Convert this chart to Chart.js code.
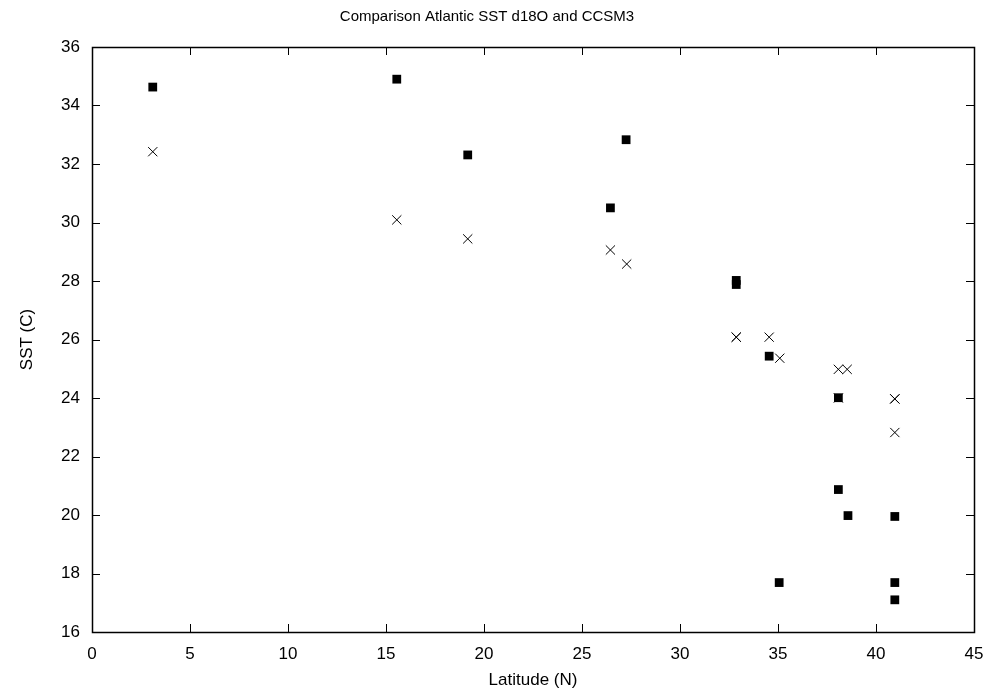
<!DOCTYPE html>
<html>
<head>
<meta charset="utf-8">
<script src="https://cdn.jsdelivr.net/npm/chart.js@4/dist/chart.umd.min.js"></script>
<style>
  html, body { margin: 0; padding: 0; background: #fff; }
  #wrap { width: 991px; height: 692px; }
</style>
</head>
<body>
<div id="wrap"><canvas id="c" width="991" height="692"></canvas></div>
<script>
// Data
const titleText = 'Comparison Atlantic SST d18O and CCSM3';
const xTitle = 'Latitude (N)';
const yTitle = 'SST (C)';

const d18oLat = [3.1, 15.55, 19.17, 27.25, 26.45, 32.87, 32.87, 34.55, 38.08, 38.08, 38.57, 40.96, 35.06, 40.96, 40.96];
const d18oSst = [34.63, 34.9, 32.31, 32.83, 30.5, 28.02, 27.88, 25.43, 24.01, 20.87, 19.98, 19.95, 17.69, 17.69, 17.1];

const ccsmLat = [3.1, 15.55, 19.17, 26.45, 27.28, 32.87, 32.87, 34.55, 35.09, 38.08, 38.53, 38.08, 40.96, 40.96, 40.96];
const ccsmSst = [32.42, 30.09, 29.44, 29.06, 28.58, 26.08, 26.08, 26.08, 25.36, 24.98, 24.98, 24.0, 23.97, 23.97, 22.82];

const xTicks = [0, 5, 10, 15, 20, 25, 30, 35, 40, 45];
const yTicks = [16, 18, 20, 22, 24, 26, 28, 30, 32, 34, 36];

const toPoints = (xs, ys) => xs.map((x, i) => ({ x: x, y: ys[i] }));

const FONT = "'Liberation Sans', Arial, Helvetica, sans-serif";

// Frame and inward tick marks on all four sides
const framePlugin = {
  id: 'frame',
  afterDraw(chart) {
    const { ctx, chartArea: a, scales } = chart;
    const tl = 8;
    ctx.save();
    ctx.strokeStyle = '#000';
    ctx.lineWidth = 1;
    ctx.beginPath();
    xTicks.forEach(v => {
      const px = Math.round(scales.x.getPixelForValue(v)) + 0.5;
      ctx.moveTo(px, a.bottom); ctx.lineTo(px, a.bottom - tl);
      ctx.moveTo(px, a.top); ctx.lineTo(px, a.top + tl);
    });
    yTicks.forEach(v => {
      const py = Math.round(scales.y.getPixelForValue(v)) + 0.5;
      ctx.moveTo(a.left, py); ctx.lineTo(a.left + tl, py);
      ctx.moveTo(a.right, py); ctx.lineTo(a.right - tl, py);
    });
    ctx.stroke();
    ctx.lineWidth = 1.5;
    ctx.strokeRect(Math.round(a.left) + 0.5, Math.round(a.top) + 0.5,
                   Math.round(a.right - a.left), Math.round(a.bottom - a.top));
    ctx.restore();
  }
};

new Chart(document.getElementById('c'), {
  type: 'scatter',
  data: {
    datasets: [
      {
        label: 'd18O',
        data: toPoints(d18oLat, d18oSst),
        pointStyle: 'rect',
        pointRadius: 6.2,
        pointHoverRadius: 6.2,
        backgroundColor: '#000',
        borderColor: '#000',
        pointBorderWidth: 0
      },
      {
        label: 'CCSM3',
        data: toPoints(ccsmLat, ccsmSst),
        pointStyle: 'crossRot',
        pointRadius: 6.5,
        pointHoverRadius: 6.5,
        backgroundColor: '#000',
        borderColor: '#000',
        pointBorderWidth: 1
      }
    ]
  },
  options: {
    responsive: false,
    animation: false,
    events: [],
    layout: { padding: { left: 0, right: 17, top: 0, bottom: 0 } },
    plugins: {
      legend: { display: false },
      tooltip: { enabled: false },
      title: {
        display: true,
        text: titleText,
        color: '#000',
        font: { family: FONT, size: 15, weight: 'normal', lineHeight: 1.2 },
        padding: { top: 8, bottom: 21 }
      }
    },
    scales: {
      x: {
        type: 'linear',
        min: 0, max: 45,
        afterBuildTicks: s => { s.ticks = xTicks.map(v => ({ value: v })); },
        afterFit: s => { s.height = 60; s.paddingLeft = 0; s.paddingRight = 0; },
        grid: { display: false, drawTicks: false },
        border: { display: false },
        ticks: {
          color: '#000',
          padding: 12,
          maxRotation: 0,
          font: { family: FONT, size: 17 },
          callback: v => String(v)
        },
        title: {
          display: true,
          text: xTitle,
          color: '#000',
          font: { family: FONT, size: 17 },
          padding: { top: 0, bottom: 1 }
        }
      },
      y: {
        type: 'linear',
        min: 16, max: 36,
        afterBuildTicks: s => { s.ticks = yTicks.map(v => ({ value: v })); },
        afterFit: s => { s.width = 92; s.paddingTop = 0; s.paddingBottom = 0; },
        grid: { display: false, drawTicks: false },
        border: { display: false },
        ticks: {
          color: '#000',
          padding: 12,
          font: { family: FONT, size: 17 },
          callback: v => String(v)
        },
        title: {
          display: true,
          text: yTitle,
          color: '#000',
          font: { family: FONT, size: 17 },
          padding: { top: 17, bottom: 0 }
        }
      }
    }
  },
  plugins: [framePlugin]
});
</script>
</body>
</html>
